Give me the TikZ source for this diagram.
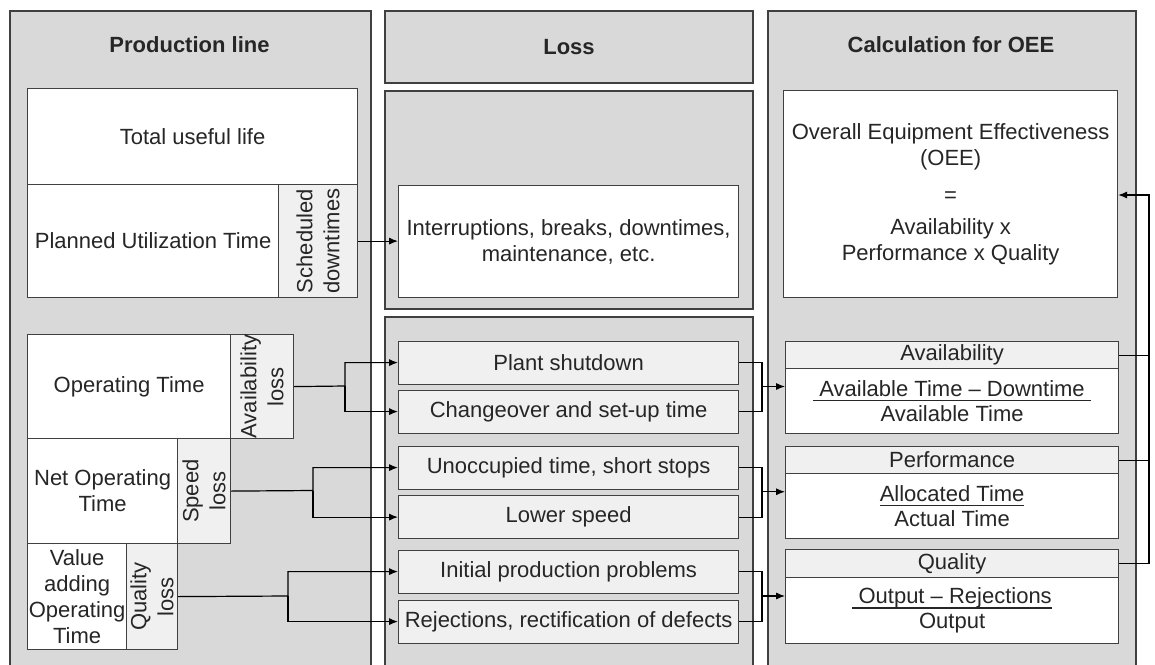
\documentclass[tikz,border=0pt]{standalone}
\usepackage{fontspec}
\setmainfont{Liberation Sans}
\usetikzlibrary{arrows.meta}

\definecolor{panelgray}{HTML}{D9D9D9}
\definecolor{lightfill}{HTML}{F0F0F0}
\definecolor{edgegray}{HTML}{404040}
\definecolor{textgray}{HTML}{262626}

% fraction bar under a line of text
\newcommand{\oeeunder}[1]{\setbox0\hbox{#1}\rlap{\rule[-2.4pt]{\wd0}{0.7pt}}\box0}

\begin{document}
\begin{tikzpicture}[x=0.5pt, y=-0.5pt,
    every node/.style={font=\fontsize{11}{13}\selectfont, text=textgray, inner sep=0pt},
    dims/.style 2 args={minimum width={(#1)*0.5pt}, minimum height={(#2)*0.5pt}},
    panel/.style={draw=edgegray, line width=1pt, fill=panelgray, anchor=north west},
    whitebox/.style={draw=edgegray, line width=0.6pt, fill=white, anchor=north west, align=center},
    greybox/.style={draw=edgegray, line width=0.6pt, fill=lightfill, anchor=north west, align=center},
    coltitle/.style={font=\fontsize{11}{13}\selectfont\bfseries},
    sidetext/.style={rotate=90, align=center, font=\fontsize{11}{13.5}\selectfont},
    wire/.style={draw=black, line width=0.6pt},
    link/.style={wire, -{Latex[length=4.5pt,width=3.6pt]}}]

  \useasboundingbox (0,0) rectangle (1155,664);
  \fill[white] (0,0) rectangle (1155,664);
  \clip (0,0) rectangle (1155,664);

  % Column panels
  \node[panel, dims={361}{680}] (prodpanel) at (9,9.5) {};
  \node[panel, dims={368}{72.5}, coltitle] (losshead) at (384,9.5) {Loss};
  \node[panel, dims={368}{218}] (lossmid) at (384,90) {};
  \node[panel, dims={368}{360}] (losslow) at (384,316) {};
  \node[panel, dims={368}{680}] (calcpanel) at (767,9.5) {};
  \node[coltitle] (prodtitle) at (189.5,45) {Production line};
  \node[coltitle] (calctitle) at (951,45) {Calculation for OEE};

  % Production line: time blocks
  \node[whitebox, dims={330}{96}] (total) at (27,88) {Total useful life};
  \node[whitebox, dims={251}{113}] (planned) at (27,184) {Planned Utilization Time};
  \node[greybox, dims={79}{113}] (sched) at (278,184) {};
  \node[whitebox, dims={203}{104}] (optime) at (27,334) {Operating Time};
  \node[greybox, dims={63}{104}] (avloss) at (230,334) {};
  \node[whitebox, dims={150}{105}] (netop) at (27,438) {Net Operating\\Time};
  \node[greybox, dims={53}{105}] (speedloss) at (177,438) {};
  \node[whitebox, dims={99}{106}] (valadd) at (27,543) {Value\\adding\\Operating\\Time};
  \node[greybox, dims={51}{106}] (qualloss) at (126,543) {};

  % rotated loss labels
  \node[sidetext] (schedtxt) at (sched) {Scheduled\\downtimes};
  \node[sidetext] (avlosstxt) at (avloss) {Availability\\loss};
  \node[sidetext] (speedlosstxt) at (speedloss) {Speed\\loss};
  \node[sidetext] (quallosstxt) at (qualloss) {Quality\\loss};

  % Loss column
  \node[whitebox, dims={340}{112}] (interr) at (398,185) {Interruptions, breaks, downtimes,\\maintenance, etc.};
  \foreach \name/\top/\txt in {plant/340.5/{Plant shutdown},
      change/389.5/{Changeover and set-up time},
      unocc/445.5/{Unoccupied time, short stops},
      lower/495/{Lower speed},
      initial/549.5/{Initial production problems},
      reject/599.5/{Rejections, rectification of defects}} {
    \node[greybox, dims={340}{43}] (\name) at (398,\top) {\txt};
  }

  % Calculation column
  \node[whitebox, dims={334}{207}] (oee) at (783,90)
    {Overall Equipment Effectiveness\\(OEE)\\[5.5pt]=\\[3pt]Availability x\\Performance x Quality};
  \node[greybox, dims={333}{27}] (avhead) at (785,341) {Availability};
  \node[whitebox, dims={333}{65}] (avbody) at (785,368)
    {\oeeunder{\ Available Time – Downtime\ }\\[-0.5pt]Available Time};
  \node[greybox, dims={333}{27}] (perfhead) at (785,446) {Performance};
  \node[whitebox, dims={333}{65}] (perfbody) at (785,473)
    {\oeeunder{Allocated Time}\\[-0.5pt]Actual Time};
  \node[greybox, dims={333}{28}] (qualhead) at (785,549) {Quality};
  \node[whitebox, dims={333}{66}] (qualbody) at (785,577)
    {\oeeunder{\ Output – Rejections}\\[-0.5pt]Output};

  % Connectors: production line -> loss
  \draw[link] (sched.east) -- (sched.east -| interr.west);
  \coordinate (avsplit) at (345,386);
  \coordinate (spsplit) at (313,490.5);
  \coordinate (qlsplit) at (288,596);
  \draw[link] (avloss.east) -- (avsplit) |- (plant.west);
  \draw[link] (avsplit) |- (change.west);
  \draw[link] (speedloss.east) -- (spsplit) |- (unocc.west);
  \draw[link] (spsplit) |- (lower.west);
  \draw[link] (qualloss.east) -- (qlsplit) |- (initial.west);
  \draw[link] (qlsplit) |- (reject.west);

  % Connectors: loss -> calculation
  \coordinate (avjoin) at (762,386.5);
  \coordinate (spjoin) at (762,491.75);
  \coordinate (qljoin) at (762,596);
  \draw[wire] (plant.east) -| (avjoin) |- (change.east);
  \draw[wire] (unocc.east) -| (spjoin) |- (lower.east);
  \draw[wire] (initial.east) -| (qljoin) |- (reject.east);
  \draw[link] (avjoin) -- (avjoin -| avbody.west);
  \draw[link] (spjoin) -- (spjoin -| perfbody.west);
  \draw[link] (qljoin) -- (qljoin -| qualbody.west);

  % Feedback into OEE
  \coordinate (fbtop) at (1149,195);
  \draw[link] (qualhead.east) -| (fbtop) -- (fbtop -| oee.east);
  \draw[wire] (avhead.east) -- (avhead.east -| fbtop);
  \draw[wire] (perfhead.east) -- (perfhead.east -| fbtop);
\end{tikzpicture}
\end{document}
